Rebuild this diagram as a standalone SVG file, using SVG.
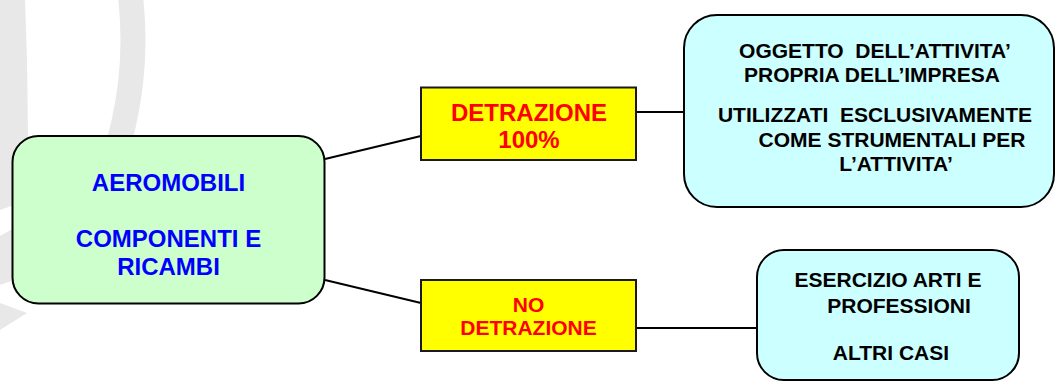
<svg xmlns="http://www.w3.org/2000/svg" width="1055" height="382" viewBox="0 0 1055 382">
  <style>
    .mark { fill: #e8e8e8; stroke: none; }
    .arc { fill: none; stroke: #e8e8e8; stroke-width: 25; }
    .root { fill: #ccffcc; stroke: #000; stroke-width: 2; }
    .choice { fill: #ffff00; stroke: #1a1a1a; stroke-width: 2; }
    .case { fill: #ccffff; stroke: #000; stroke-width: 2; }
    .edge { fill: none; stroke: #000; stroke-width: 2; }
    text { font-family: "Liberation Sans", Arial, sans-serif; font-weight: bold; text-anchor: middle; }
    .blue { fill: #0000ff; font-size: 24px; }
    .red { fill: #ff0000; }
    .dark { fill: #000; font-size: 21px; }
  </style>

  <!-- faint background emblem -->
  <g id="background">
    <polygon class="mark" points="0,0 25,0 27,60 28,136 28,200 0,210"/>
    <polygon class="mark" points="0,236 14,228 14,280 0,285"/>
    <polygon class="mark" points="0,303 27,313 0,330"/>
    <path class="arc" d="M 129.7,-10 A 382 382 0 0 1 70,250"/>
  </g>

  <!-- connectors -->
  <g id="connectors">
    <line class="edge" x1="325" y1="159" x2="421" y2="136"/>
    <line class="edge" x1="325" y1="280" x2="421" y2="303"/>
    <line class="edge" x1="636" y1="112" x2="684" y2="112"/>
    <line class="edge" x1="636" y1="328" x2="757" y2="328"/>
  </g>

  <g id="node-aeromobili">
    <rect class="root" x="12.5" y="136" width="312" height="167.5" rx="26" ry="26"/>
    <text class="blue" x="168.5" y="191">AEROMOBILI</text>
    <text class="blue" x="168.5" y="247">COMPONENTI E</text>
    <text class="blue" x="168.5" y="275">RICAMBI</text>
  </g>

  <g id="node-detrazione">
    <rect class="choice" x="421" y="87.5" width="215" height="72.5"/>
    <text class="red" font-size="24" x="529" y="121">DETRAZIONE</text>
    <text class="red" font-size="24" x="529" y="148">100%</text>
  </g>

  <g id="node-no-detrazione">
    <rect class="choice" x="421" y="280" width="215" height="71"/>
    <text class="red" font-size="21" x="528.5" y="312">NO</text>
    <text class="red" font-size="21" x="528.5" y="335">DETRAZIONE</text>
  </g>

  <g id="node-attivita">
    <rect class="case" x="684" y="15" width="370" height="192" rx="33" ry="33"/>
    <text class="dark" x="875" y="58" xml:space="preserve">OGGETTO  DELL’ATTIVITA’</text>
    <text class="dark" x="872" y="82">PROPRIA DELL’IMPRESA</text>
    <text class="dark" x="875" y="122" xml:space="preserve">UTILIZZATI  ESCLUSIVAMENTE</text>
    <text class="dark" x="892" y="147">COME STRUMENTALI PER</text>
    <text class="dark" x="896" y="171">L’ATTIVITA’</text>
  </g>

  <g id="node-altri-casi">
    <rect class="case" x="757" y="250" width="262" height="130" rx="27" ry="27"/>
    <text class="dark" x="888" y="287">ESERCIZIO ARTI E</text>
    <text class="dark" x="899" y="313">PROFESSIONI</text>
    <text class="dark" x="891" y="360">ALTRI CASI</text>
  </g>
</svg>
